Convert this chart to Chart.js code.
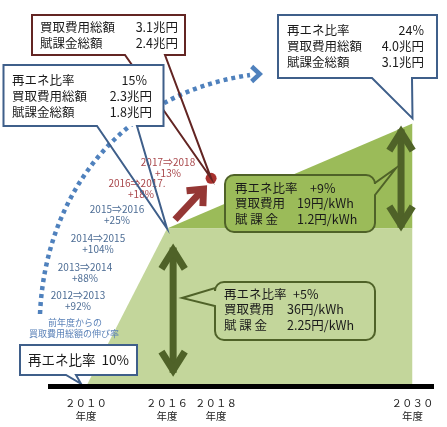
<!DOCTYPE html>
<html>
<head>
<meta charset="utf-8">
<script src="https://cdn.jsdelivr.net/npm/chart.js@4.4.1/dist/chart.umd.min.js"></script>
<style>
  html, body { margin: 0; background: #fff; }
</style>
</head>
<body>
<canvas id="chart" width="447" height="427"></canvas>
<script>
// 再エネ比率と買取費用・賦課金の見通し（模式図）
const fiscalYears = [2010, 2016, 2018, 2030];
const reShare = [10, 15, null, 24];            // 再エネ比率 %
const purchaseTotal = [null, 2.3, 3.1, 4.0];   // 買取費用総額 兆円
const levyTotal = [null, 1.8, 2.4, 3.1];       // 賦課金総額 兆円

const stepShare = [5, 9];                      // 再エネ比率の増分 %
const stepPrice = ['36', '19'];                // 買取費用 円/kWh
const stepLevy = ['2.25', '1.2'];              // 賦課金 円/kWh

const growthPeriods = ['2012⇒2013', '2013⇒2014', '2014⇒2015', '2015⇒2016', '2016⇒2017.', '2017⇒2018'];
const growthRates = [92, 88, 104, 25, 18, 13]; // 前年度からの買取費用総額の伸び率 %

const FONT = '"Noto Sans CJK JP", "Noto Sans", sans-serif';
const LIGHT = '#c3d69b', DARK = '#9bbb59', OLIVE = '#4f6228';
const BLUE_LINE = '#3f5f8a', BROWN_LINE = '#632523', RED = '#953735';

// schematic axis: piecewise linear between knots
class WarpScale extends Chart.LinearScale {
  static id = 'warp';
  static defaults = Chart.LinearScale.defaults;
  warp(v) {
    const from = this.options.warpFrom, to = this.options.warpTo;
    let i = 1;
    while (i < from.length - 1 && v > from[i]) i++;
    return to[i - 1] + (v - from[i - 1]) * (to[i] - to[i - 1]) / (from[i] - from[i - 1]);
  }
  getPixelForValue(v) {
    return this.getPixelForDecimal(this.warp(v));
  }
}
Chart.register(WarpScale);

const wide = v => String(v).replace(/[0-9]/g, d => String.fromCharCode(d.charCodeAt(0) + 0xFEE0));

// annotation layout
const arrowYears = [2016.25, 2029.3];
const dotAt = {x: 2017.8, y: 19.3};
const growthPos = [[78, 295], [85, 267], [98, 238], [117, 209], [137, 183], [168, 162]];

function chevron(ctx, tx, ty, ang, len, spread, w, color) {
  const back = (w / 2) / Math.sin(spread);
  const vx = tx - back * Math.cos(ang), vy = ty - back * Math.sin(ang);
  ctx.save();
  ctx.strokeStyle = color; ctx.lineWidth = w; ctx.lineJoin = 'miter'; ctx.lineCap = 'butt';
  ctx.beginPath();
  ctx.moveTo(vx - len * Math.cos(ang - spread), vy - len * Math.sin(ang - spread));
  ctx.lineTo(vx, vy);
  ctx.lineTo(vx - len * Math.cos(ang + spread), vy - len * Math.sin(ang + spread));
  ctx.stroke();
  ctx.restore();
}

function doubleArrow(ctx, x, y0, y1) {
  ctx.save();
  ctx.strokeStyle = OLIVE; ctx.lineWidth = 7;
  ctx.beginPath(); ctx.moveTo(x, y0 + 4); ctx.lineTo(x, y1 - 4); ctx.stroke();
  ctx.restore();
  chevron(ctx, x, y0, -Math.PI / 2, 22, 0.56, 7, OLIVE);
  chevron(ctx, x, y1, Math.PI / 2, 22, 0.56, 7, OLIVE);
}

function rows(ctx, lines, xl, xv, y0, gap, size, align) {
  ctx.font = size + 'px ' + FONT;
  ctx.fillStyle = '#1a1a1a';
  ctx.textBaseline = 'middle';
  lines.forEach(([l, v, dx], i) => {
    ctx.textAlign = 'left';
    ctx.fillText(l, xl, y0 + i * gap);
    ctx.textAlign = align;
    ctx.fillText(v, xv + (dx || 0), y0 + i * gap);
  });
}

function boxCallout(ctx, b, tip, color) {
  ctx.save();
  ctx.fillStyle = '#fff';
  ctx.fillRect(b.x, b.y, b.w, b.h);
  ctx.strokeStyle = color; ctx.lineWidth = 2; ctx.lineJoin = 'miter';
  ctx.beginPath();
  ctx.moveTo(b.x, b.y); ctx.lineTo(b.x + b.w, b.y); ctx.lineTo(b.x + b.w, b.y + b.h);
  ctx.lineTo(b.t1, b.y + b.h); ctx.lineTo(tip[0], tip[1]); ctx.lineTo(b.t0, b.y + b.h);
  ctx.lineTo(b.x, b.y + b.h); ctx.closePath();
  ctx.stroke();
  ctx.restore();
}

function roundCallout(ctx, b, tip, fill) {
  const {x, y, w, h, r, side, s0, s1} = b;
  ctx.save();
  ctx.beginPath();
  ctx.moveTo(x + r, y);
  ctx.lineTo(x + w - r, y);
  ctx.arcTo(x + w, y, x + w, y + r, r);
  if (side === 'right') { ctx.lineTo(x + w, s0); ctx.lineTo(tip[0], tip[1]); ctx.lineTo(x + w, s1); }
  ctx.lineTo(x + w, y + h - r);
  ctx.arcTo(x + w, y + h, x + w - r, y + h, r);
  ctx.lineTo(x + r, y + h);
  ctx.arcTo(x, y + h, x, y + h - r, r);
  if (side === 'left') { ctx.lineTo(x, s1); ctx.lineTo(tip[0], tip[1]); ctx.lineTo(x, s0); }
  ctx.lineTo(x, y + r);
  ctx.arcTo(x, y, x + r, y, r);
  ctx.closePath();
  ctx.fillStyle = fill; ctx.fill();
  ctx.strokeStyle = OLIVE; ctx.lineWidth = 2; ctx.stroke();
  ctx.restore();
}

const annotate = {
  id: 'annotate',
  afterDatasetsDraw(chart) {
    const {ctx, scales: {x, y}} = chart;
    const px = (xv, yv) => [x.getPixelForValue(xv), y.getPixelForValue(yv)];

    // 比率の増分を示す矢印
    const [ax1, y10] = px(arrowYears[0], reShare[0]);
    const [, y15a] = px(arrowYears[0], reShare[1]);
    doubleArrow(ctx, ax1, y15a + 15, y10 - 10);
    const [ax2, y15b] = px(arrowYears[1], reShare[1]);
    const [, y24] = px(arrowYears[1], reShare[3]);
    doubleArrow(ctx, ax2, y24 + 2, y15b + 3);

    roundCallout(ctx, {x: 215, y: 282, w: 160, h: 58, r: 9, side: 'left', s0: 288, s1: 306}, [ax1 + 9, 298], LIGHT);
    rows(ctx, [['再エネ比率', '+' + stepShare[0] + '%', 6], ['買取費用', stepPrice[0] + '円/kWh'], ['賦 課 金', stepLevy[0] + '円/kWh']],
      224, 287, 294, 15.5, 12.5, 'left');
    roundCallout(ctx, {x: 225, y: 175, w: 150, h: 57, r: 9, side: 'right', s0: 183, s1: 195}, [ax2 - 5, 168], DARK);
    rows(ctx, [['再エネ比率', '+' + stepShare[1] + '%', 13], ['買取費用', stepPrice[1] + '円/kWh'], ['賦 課 金', stepLevy[1] + '円/kWh']],
      235, 297, 188, 15.5, 12.5, 'left');

    // 2016 -> 2018 の矢印と点
    const corner = px(fiscalYears[1], reShare[1]);
    const dot = px(dotAt.x, dotAt.y);
    const s = [corner[0] + 8, corner[1] - 9];
    const e = [dot[0] - 4, dot[1] + 7];
    const ang = Math.atan2(e[1] - s[1], e[0] - s[0]);
    ctx.save();
    ctx.strokeStyle = RED; ctx.lineWidth = 7;
    ctx.beginPath(); ctx.moveTo(s[0], s[1]);
    ctx.lineTo(e[0] - 6 * Math.cos(ang), e[1] - 6 * Math.sin(ang)); ctx.stroke();
    ctx.restore();
    chevron(ctx, e[0], e[1], ang, 17, 0.72, 7, RED);
    ctx.save();
    ctx.fillStyle = '#a8312e';
    ctx.beginPath(); ctx.arc(dot[0], dot[1], 5.5, 0, Math.PI * 2); ctx.fill();
    ctx.restore();

    // 点線の弧
    ctx.save();
    ctx.strokeStyle = '#4f81bd'; ctx.lineWidth = 4.5; ctx.lineCap = 'butt';
    ctx.setLineDash([4, 4]);
    ctx.beginPath(); ctx.moveTo(40, 314);
    ctx.bezierCurveTo(45, 200, 115, 95, 250, 75);
    ctx.stroke();
    ctx.restore();
    chevron(ctx, 263, 74, 0, 11, 0.75, 4.5, '#4f81bd');

    // 伸び率
    ctx.save();
    ctx.textAlign = 'center'; ctx.textBaseline = 'middle';
    ctx.font = '10px ' + FONT;
    growthPeriods.forEach((p, i) => {
      ctx.fillStyle = i >= 4 ? '#a9474b' : '#4d6d95';
      const [cx, cy] = growthPos[i];
      ctx.fillText(p, cx, cy);
      ctx.fillText('+' + growthRates[i] + '%', cx + (i === 4 ? 4 : 0), cy + 11);
    });
    ctx.fillStyle = '#5b82b8';
    ctx.font = '9px ' + FONT;
    ctx.fillText('前年度からの', 75, 323);
    ctx.fillText('買取費用総額の伸び率', 74, 334);
    ctx.restore();

    // 吹き出し
    boxCallout(ctx, {x: 32, y: 15, w: 153, h: 40, t0: 125, t1: 165}, dot, BROWN_LINE);
    rows(ctx, [['買取費用総額', purchaseTotal[2].toFixed(1) + '兆円'], ['賦課金総額', levyTotal[2].toFixed(1) + '兆円']],
      40, 178, 27, 16, 12.5, 'right');

    boxCallout(ctx, {x: 3.5, y: 65, w: 160, h: 61, t0: 97, t1: 137}, corner, BLUE_LINE);
    rows(ctx, [['再エネ比率', reShare[1] + '%', -5], ['買取費用総額', purchaseTotal[1].toFixed(1) + '兆円'], ['賦課金総額', levyTotal[1].toFixed(1) + '兆円']],
      12, 152, 80, 16, 12.5, 'right');

    const top = px(fiscalYears[3], reShare[3]);
    boxCallout(ctx, {x: 278, y: 15, w: 159, h: 63, t0: 372, t1: 412}, [top[0], top[1] - 5], BLUE_LINE);
    rows(ctx, [['再エネ比率', reShare[3] + '%'], ['買取費用総額', purchaseTotal[3].toFixed(1) + '兆円'], ['賦課金総額', levyTotal[3].toFixed(1) + '兆円']],
      287, 424, 30, 16, 12.5, 'right');

    const low = px(fiscalYears[0], reShare[0]);
    boxCallout(ctx, {x: 20, y: 345, w: 117, h: 30, t0: 66, t1: 76}, [low[0] - 5, low[1] - 3], BLUE_LINE);
    rows(ctx, [['再エネ比率', reShare[0] + '%']], 28, 129, 360, 0, 13.5, 'right');
  }
};

new Chart(document.getElementById('chart'), {
  type: 'line',
  data: {
    datasets: [{
      data: [
        {x: fiscalYears[0], y: reShare[0]},
        {x: fiscalYears[1], y: reShare[1]},
        {x: fiscalYears[3], y: reShare[1]}
      ],
      backgroundColor: LIGHT,
      borderWidth: 0,
      pointRadius: 0,
      fill: 'origin'
    }, {
      data: [
        {x: fiscalYears[1], y: reShare[1]},
        {x: fiscalYears[3], y: reShare[3]}
      ],
      backgroundColor: DARK,
      borderWidth: 0,
      pointRadius: 0,
      fill: {value: reShare[1]}
    }]
  },
  options: {
    responsive: false,
    animation: false,
    events: [],
    layout: { padding: { left: 50, right: 14, top: 10, bottom: -5 } },
    plugins: { legend: { display: false }, tooltip: { enabled: false } },
    scales: {
      x: {
        type: 'warp',
        min: 2008, max: 2031,
        warpFrom: [2010, 2016, 2018, 2030],
        warpTo: [0.094, 0.3055, 0.4334, 0.9465],
        afterBuildTicks: axis => { axis.ticks = fiscalYears.map(v => ({value: v})); },
        grid: { display: false, drawTicks: false },
        border: { display: true, color: '#000', width: 5, z: 1 },
        ticks: {
          autoSkip: false, maxRotation: 0, padding: 10,
          color: '#222',
          font: { family: FONT, size: 10.5, lineHeight: 1.2 },
          callback: v => [wide(v), '年度']
        }
      },
      y: {
        type: 'warp',
        display: false,
        min: 10, max: 30,
        warpFrom: [10, 15, 24],
        warpTo: [0, 0.42, 0.699]
      }
    }
  },
  plugins: [annotate]
});
</script>
</body>
</html>
